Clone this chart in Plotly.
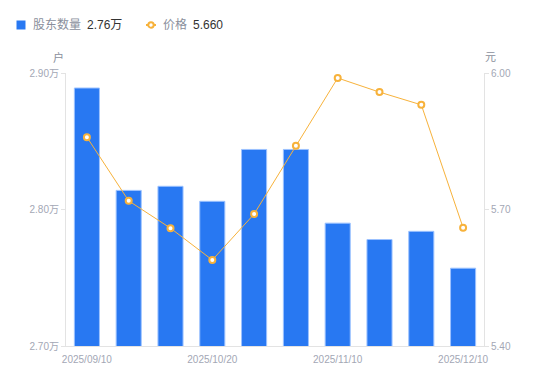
import plotly.graph_objects as go

dates = ["2025/09/10", "2025/09/19", "2025/09/30", "2025/10/20", "2025/10/31",
         "2025/11/07", "2025/11/10", "2025/11/20", "2025/11/28", "2025/12/10"]
holders = [2.889, 2.814, 2.817, 2.806, 2.844, 2.844, 2.790, 2.778, 2.784, 2.757]
prices = [5.859, 5.719, 5.659, 5.589, 5.690, 5.840, 5.989, 5.958, 5.930, 5.660]
x_tick_dates = ["2025/09/10", "2025/10/20", "2025/11/10", "2025/12/10"]
y1_ticks = [2.70, 2.80, 2.90]
y1_ticktext = ["2.70万", "2.80万", "2.90万"]
y2_ticks = [5.40, 5.70, 6.00]
y2_ticktext = ["5.40", "5.70", "6.00"]

FONT = "Liberation Sans, Noto Sans CJK SC, sans-serif"
GREY = "#a3a7b5"
LABEL = "#8a8f9c"
DARK = "#333333"
AXIS = "#e3e3e3"
BLUE = "#2878f2"
ORANGE = "#f7b23b"

# page has an 8px body margin; figure sized so plot area lands at x 66..484, y 73..346
W, H = 542, 373
ML, MR, MT, MB = 58, 66, 65, 35
OFF = 8
PX0, PX1 = OFF + ML, OFF + W - MR
PY0, PY1 = OFF + MT, OFF + H - MB


def px(x):
    return (x - PX0) / (PX1 - PX0)


def py(y):
    return (PY1 - y) / (PY1 - PY0)


fig = go.Figure()
fig.add_trace(go.Bar(
    x=dates, y=holders, yaxis="y", name="股东数量",
    marker=dict(color=BLUE, line=dict(color="#9cc2ff", width=1)),
    hoverinfo="skip",
))
fig.add_trace(go.Scatter(
    x=dates, y=prices, yaxis="y2", mode="lines+markers", name="价格",
    line=dict(color=ORANGE, width=1),
    marker=dict(size=6, color="white", line=dict(color=ORANGE, width=2)),
    hoverinfo="skip",
))

legend_y = 25
shapes = [
    dict(type="rect", xref="paper", yref="paper",
         x0=px(16.5), x1=px(25.5), y0=py(20.5), y1=py(29.5),
         fillcolor=BLUE, line=dict(width=0)),
    dict(type="line", xref="paper", yref="paper",
         x0=px(146), x1=px(156), y0=py(legend_y), y1=py(legend_y),
         line=dict(color=ORANGE, width=2)),
    dict(type="circle", xref="paper", yref="paper",
         x0=px(148.3), x1=px(153.7), y0=py(22.3), y1=py(27.7),
         fillcolor="white", line=dict(color=ORANGE, width=2)),
]

def ann(text, x, y, color, size=12, anchor="left"):
    return dict(text=text, xref="paper", yref="paper", x=px(x), y=py(y),
                xanchor=anchor, yanchor="middle", showarrow=False,
                font=dict(size=size, color=color, family=FONT))

annotations = [
    ann("股东数量", 30.5, legend_y, LABEL),
    ann("%.2f万" % holders[-1], 84.5, legend_y, DARK),
    ann("价格", 161, legend_y, LABEL),
    ann("%.3f" % prices[-1], 191, legend_y, DARK),
    ann("户", 58, 57.5, LABEL, 11, "center"),
    ann("元", 490, 57, LABEL, 11, "center"),
]

fig.update_layout(
    width=W, height=H,
    margin=dict(l=ML, r=MR, t=MT, b=MB),
    paper_bgcolor="white", plot_bgcolor="white",
    font=dict(family=FONT, size=10, color=GREY),
    bargap=0.4,
    showlegend=False,
    xaxis=dict(type="category", range=[-0.5, 9.5],
               tickvals=x_tick_dates, ticktext=x_tick_dates,
               showline=True, linecolor=AXIS, linewidth=1,
               ticks="", ticklabelstandoff=4, showgrid=False,
               tickfont=dict(size=10, color=GREY)),
    yaxis=dict(range=[2.70, 2.90], tickvals=y1_ticks, ticktext=y1_ticktext,
               showline=True, linecolor=AXIS, linewidth=1,
               ticks="outside", ticklen=4, tickcolor=AXIS,
               showgrid=False, zeroline=False, tickfont=dict(size=10, color=GREY)),
    yaxis2=dict(range=[5.40, 6.00], tickvals=y2_ticks, ticktext=y2_ticktext,
                overlaying="y", side="right",
                showline=True, linecolor=AXIS, linewidth=1,
                ticks="outside", ticklen=4, tickcolor=AXIS,
                showgrid=False, zeroline=False, tickfont=dict(size=10, color=GREY)),
    shapes=shapes,
    annotations=annotations,
)

fig.write_html("out.html")
